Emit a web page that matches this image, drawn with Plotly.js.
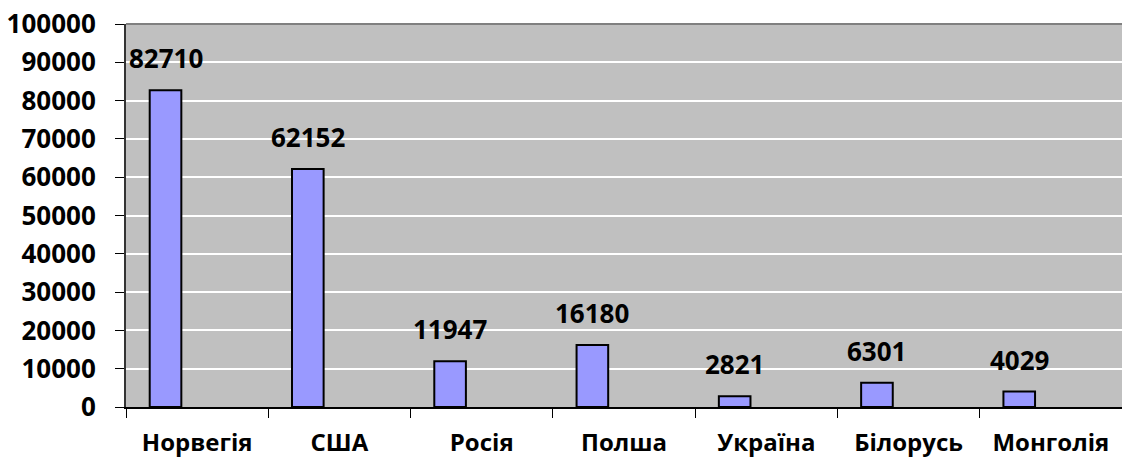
<!DOCTYPE html>
<html>
<head>
<meta charset="utf-8">
<script src="https://cdn.plot.ly/plotly-3.0.1.min.js"></script>
<style>html,body{margin:0;padding:0;background:#fff;}#chart{width:1122px;height:459px;}</style>
</head>
<body>
<div id="chart"></div>
<script>
const categories = ["Норвегія", "США", "Росія", "Полша", "Україна", "Білорусь", "Монголія"];
const values = [82710, 62152, 11947, 16180, 2821, 6301, 4029];
const yTickValues = [0, 10000, 20000, 30000, 40000, 50000, 60000, 70000, 80000, 90000, 100000];

const FAMILY = "Open Sans, Liberation Sans, sans-serif";
const TEXT_FONT = {family: FAMILY, size: 24, color: "#000", weight: 700};
const NUM_FONT = {family: FAMILY, size: 26, color: "#000", weight: 700};
const BAR_OFFSET = -1/3;
const BAR_WIDTH = 2/9;

const trace = {
  type: "bar",
  x: categories,
  y: values,
  offset: BAR_OFFSET,
  width: BAR_WIDTH,
  marker: {color: "#9999FF", line: {color: "#000", width: 2}},
  hoverinfo: "none"
};

const annotations = values.map((v, i) => ({
  x: i + BAR_OFFSET + BAR_WIDTH / 2,
  y: v,
  xref: "x",
  yref: "y",
  text: String(v),
  showarrow: false,
  yanchor: "middle",
  yshift: 32,
  font: NUM_FONT
}));

const layout = {
  width: 1122,
  height: 459,
  margin: {l: 126, r: 0, t: 24, b: 52, pad: 0},
  paper_bgcolor: "#ffffff",
  plot_bgcolor: "#C0C0C0",
  showlegend: false,
  font: TEXT_FONT,
  bargap: 0,
  xaxis: {
    type: "category",
    showgrid: false,
    showline: true,
    linecolor: "#000",
    linewidth: 2,
    ticks: "outside",
    tickson: "boundaries",
    ticklen: 9,
    tickwidth: 1,
    tickcolor: "#000",
    ticklabelstandoff: 13,
    tickfont: TEXT_FONT,
    range: [-0.5, 6.5],
    fixedrange: true
  },
  yaxis: {
    range: [0, 100000],
    tickvals: yTickValues,
    ticktext: yTickValues.map(String),
    showgrid: true,
    gridcolor: "#ffffff",
    gridwidth: 2,
    zeroline: false,
    showline: true,
    linecolor: "#333",
    linewidth: 2,
    ticks: "outside",
    ticklen: 9,
    tickwidth: 1,
    tickcolor: "#000",
    ticklabelstandoff: 14,
    tickfont: NUM_FONT,
    fixedrange: true
  },
  shapes: [{
    type: "line", xref: "paper", yref: "paper",
    x0: 0, x1: 1, y0: 1, y1: 1,
    line: {color: "#808080", width: 2}
  }],
  annotations: annotations
};

Plotly.newPlot("chart", [trace], layout, {displayModeBar: false, staticPlot: true});
</script>
</body>
</html>
